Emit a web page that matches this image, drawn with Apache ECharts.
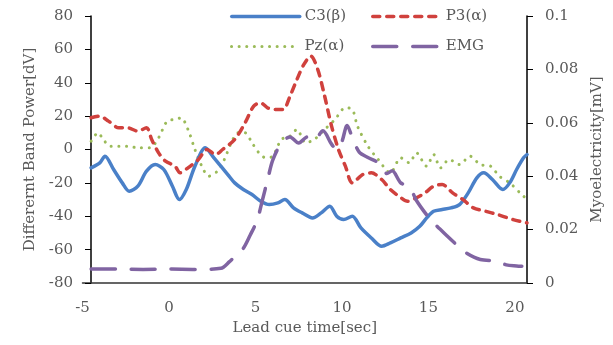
<!DOCTYPE html>
<html>
<head>
<meta charset="utf-8">
<script src="https://cdn.jsdelivr.net/npm/echarts@6/dist/echarts.min.js"></script>
<style>
  html, body { margin: 0; padding: 0; background: #fff; }
  #chart { width: 613px; height: 345px; }
</style>
</head>
<body>
<div id="chart"></div>
<script>
var xTicks = [-5, 0, 5, 10, 15, 20];

var c3Time = [-4.5, -4.0, -3.7, -3.2, -2.7, -2.3, -1.8, -1.3, -0.8, -0.3, 0.2, 0.6, 1.0, 1.5, 2.1, 2.6, 3.0, 3.4, 3.8, 4.3, 4.8, 5.3, 5.8, 6.3, 6.7, 7.2, 7.7, 8.3, 8.8, 9.3, 9.7, 10.1, 10.6, 11.1, 11.7, 12.3, 12.8, 13.4, 14.0, 14.5, 14.9, 15.3, 15.8, 16.3, 16.8, 17.3, 17.8, 18.2, 18.7, 19.3, 19.7, 20.1, 20.5, 20.7];
var c3Values = [-11, -8, -4, -12, -20, -25, -22, -13, -9, -12, -22, -30, -24, -10, 1, -5, -10, -15, -20, -24, -27, -31, -33, -32, -30, -35, -38, -41, -38, -34, -40, -42, -40, -47, -53, -58, -56, -53, -50, -46, -41, -37, -36, -35, -33, -26, -17, -14, -18, -24, -20, -12, -5, -3];

var p3Time = [-4.5, -4.0, -3.5, -2.9, -2.4, -1.8, -1.3, -1.0, -0.6, -0.2, 0.35, 0.64, 1.1, 1.7, 2.2, 2.7, 3.1, 3.8, 4.4, 4.9, 5.3, 5.7, 6.2, 6.6, 7.0, 7.4, 7.8, 8.2, 8.6, 9.0, 9.4, 9.8, 10.2, 10.6, 11.2, 11.7, 12.3, 12.8, 13.3, 13.8, 14.3, 14.8, 15.3, 15.8, 16.4, 17.0, 17.6, 18.3, 19.0, 19.9, 20.7];
var p3Values = [19, 20, 17, 13, 13, 11, 13, 6, -2, -7, -10, -14, -11, -6, 0, -3, 0, 6, 16, 26, 28, 25, 24, 24, 32, 42, 51, 56, 48, 32, 14, 0, -10, -20, -15, -14, -18, -24, -28, -31, -29, -26, -22, -21, -26, -30, -35, -37, -39, -42, -44];

var pzTime = [-4.5, -4.1, -3.8, -3.4, -2.9, -2.4, -1.8, -1.1, -0.6, -0.1, 0.4, 0.7, 1.1, 1.5, 1.9, 2.3, 2.8, 3.2, 3.6, 4.0, 4.4, 4.8, 5.2, 5.6, 6.0, 6.5, 7.0, 7.4, 7.9, 8.4, 9.0, 9.6, 10.2, 10.6, 10.9, 11.5, 12.1, 12.8, 13.4, 13.9, 14.3, 14.9, 15.3, 15.7, 16.2, 16.8, 17.4, 18.0, 18.6, 19.1, 19.7, 20.3, 20.7];
var pzValues = [5, 10, 6, 2, 2, 2, 1, 1, 7, 17, 18, 19, 12, 0, -10, -16, -13, -6, 4, 10, 10, 4, -2, -5, -4, 6, 8, 12, 4, 6, 12, 18, 25, 24, 14, 2, -6, -14, -5, -8, -2, -10, -3, -11, -6, -9, -4, -9, -10, -16, -20, -26, -30];

var emgTime = [-4.5, -3.0, -1.5, 0, 1.5, 3.0, 3.5, 3.9, 4.3, 4.7, 5.1, 5.4, 5.7, 6.0, 6.5, 7.0, 7.5, 8.0, 8.4, 8.9, 9.4, 9.7, 10.0, 10.3, 10.6, 11.0, 11.5, 12.1, 12.6, 12.9, 13.4, 13.9, 14.3, 14.9, 15.3, 16.1, 16.6, 17.2, 18.0, 19.0, 19.5, 20.1, 20.4];
var emgValues = [0.0052, 0.0052, 0.0051, 0.0052, 0.0051, 0.0055, 0.008, 0.0105, 0.013, 0.018, 0.0235, 0.031, 0.0386, 0.046, 0.0524, 0.0547, 0.0524, 0.0547, 0.0536, 0.057, 0.052, 0.05, 0.053, 0.059, 0.0545, 0.049, 0.047, 0.045, 0.041, 0.042, 0.0375, 0.036, 0.031, 0.0255, 0.0225, 0.0175, 0.0145, 0.0112, 0.0088, 0.0082, 0.0068, 0.0064, 0.0063];

function pairs(t, v) {
    return t.map(function (x, i) { return [x, v[i]]; });
}

var font = '"DejaVu Serif", "Liberation Serif", serif';
var textColor = '#595959';

var styles = {
    'C3(β)': { color: '#4a80c8', dash: 'solid', width: 3.5 },
    'P3(α)': { color: '#d0413d', dash: [7, 7], width: 3.5 },
    'Pz(α)': { color: '#9bbb59', dash: [0.1, 7.5], width: 3 },
    'EMG':   { color: '#8064a2', dash: [24, 16], width: 3.5 }
};

var myChart = echarts.init(document.getElementById('chart'));

function legendAt(name, left, top) {
    var s = styles[name];
    return {
        data: [name],
        left: left,
        top: top,
        itemWidth: 68,
        itemHeight: 12,
        itemGap: 4,
        itemStyle: { opacity: 0 },
        lineStyle: { color: s.color, width: s.width, type: s.dash, cap: 'round' },
        textStyle: { fontFamily: font, fontSize: 15, color: textColor }
    };
}

function lineSeries(name, t, v, axis, z) {
    var s = styles[name];
    return {
        name: name,
        type: 'line',
        yAxisIndex: axis,
        symbol: 'none',
        smooth: 0.3,
        data: pairs(t, v),
        color: s.color,
        lineStyle: { width: s.width, type: s.dash, cap: 'round', join: 'round' },
        z: z
    };
}

var option = {
    animation: false,
    backgroundColor: '#fff',
    legend: [
        legendAt('C3(β)', 225, 4),
        legendAt('P3(α)', 366, 4),
        legendAt('Pz(α)', 225, 34),
        legendAt('EMG', 366, 34)
    ],
    grid: { left: 82.5, right: 86, top: 16, bottom: 62 },
    xAxis: {
        type: 'value',
        min: -5,
        max: 20.7,
        interval: 5,
        name: 'Lead cue time[sec]',
        nameLocation: 'middle',
        nameGap: 36,
        nameTextStyle: { fontFamily: font, fontSize: 15, color: textColor },
        axisLine: { onZero: false, lineStyle: { color: '#333', width: 1.5 } },
        axisTick: { show: false },
        splitLine: { show: false },
        axisLabel: {
            fontFamily: font, fontSize: 15, color: textColor, margin: 18,
            customValues: xTicks
        }
    },
    yAxis: [{
        type: 'value',
        min: -80,
        max: 80,
        interval: 20,
        offset: -8.5,
        name: 'Differernt Band Power[dV]',
        nameLocation: 'middle',
        nameGap: 50,
        nameTextStyle: { fontFamily: font, fontSize: 15, color: textColor },
        axisLine: { show: true, onZero: false, lineStyle: { color: '#000', width: 1.5 } },
        axisTick: { show: true, length: 6, inside: false, lineStyle: { color: '#000' } },
        splitLine: { show: false },
        axisLabel: { fontFamily: font, fontSize: 15, color: textColor, margin: 18 }
    }, {
        type: 'value',
        min: 0,
        max: 0.1,
        interval: 0.02,
        position: 'right',
        name: 'Myoelectricity[mV]',
        nameLocation: 'middle',
        nameGap: 50,
        nameRotate: 90,
        nameTextStyle: { fontFamily: font, fontSize: 15, color: textColor },
        axisLine: { show: true, onZero: false, lineStyle: { color: '#000', width: 1.5 } },
        axisTick: { show: true, length: 6, inside: false, lineStyle: { color: '#000' } },
        splitLine: { show: false },
        axisLabel: {
            fontFamily: font, fontSize: 15, color: textColor, margin: 18,
            formatter: function (v) { return v === 0 ? '0' : String(+v.toFixed(2)); }
        }
    }],
    series: [
        lineSeries('C3(β)', c3Time, c3Values, 0, 2),
        lineSeries('P3(α)', p3Time, p3Values, 0, 3),
        lineSeries('Pz(α)', pzTime, pzValues, 0, 1),
        lineSeries('EMG', emgTime, emgValues, 1, 4)
    ]
};
myChart.setOption(option);
</script>
</body>
</html>
